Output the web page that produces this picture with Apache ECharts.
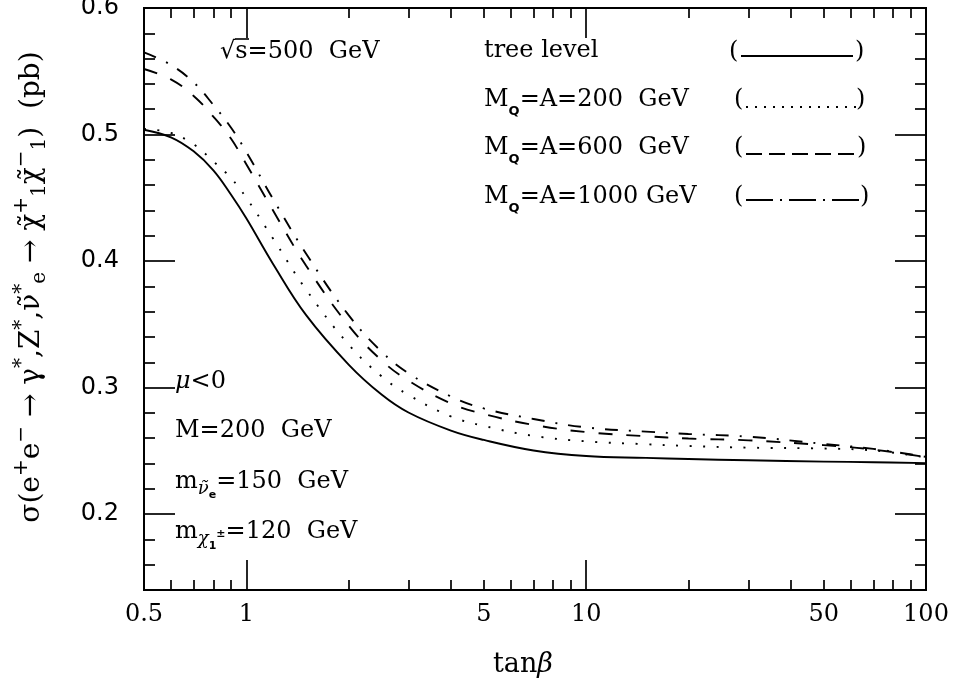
<!DOCTYPE html>
<html><head><meta charset="utf-8">
<script src="https://cdn.jsdelivr.net/npm/echarts@6/dist/echarts.min.js"></script>
<style>html,body{margin:0;padding:0;background:#fff}#c{width:953px;height:691px}</style>
</head><body><div id="c"></div>
<script>
// ---- data ----
const tanBeta   = [0.5, 0.6, 0.7, 0.8, 0.9, 1, 1.2, 1.5, 2, 2.5, 3, 4, 5, 7, 10, 15, 20, 30, 50, 70, 100];
const treeLevel = [0.5038, 0.4978, 0.4867, 0.4717, 0.4528, 0.4338, 0.3975, 0.3572, 0.3182, 0.2945, 0.2803, 0.2660, 0.2586, 0.2503, 0.2459, 0.2444, 0.2435, 0.2425, 0.2415, 0.2410, 0.2403];
const mqA200    = [0.5045, 0.5013, 0.4922, 0.4788, 0.4658, 0.4500, 0.4176, 0.3774, 0.3340, 0.3089, 0.2942, 0.2772, 0.2697, 0.2618, 0.2575, 0.2552, 0.2538, 0.2525, 0.2518, 0.2503, 0.2448];
const mqA600    = [0.5518, 0.5436, 0.5305, 0.5141, 0.4970, 0.4765, 0.4397, 0.3963, 0.3490, 0.3215, 0.3055, 0.2874, 0.2791, 0.2705, 0.2648, 0.2615, 0.2597, 0.2583, 0.2545, 0.2510, 0.2450];
const mqA1000   = [0.5649, 0.5550, 0.5412, 0.5234, 0.5057, 0.4863, 0.4488, 0.4058, 0.3572, 0.3284, 0.3113, 0.2930, 0.2835, 0.2752, 0.2685, 0.2652, 0.2633, 0.2612, 0.2555, 0.2515, 0.2452];

const xLabelValues = [0.5, 1, 5, 10, 50, 100];
const xMajorTicks  = [1, 10, 100];
const xMinorTicks  = [0.6, 0.7, 0.8, 0.9, 2, 3, 4, 5, 6, 7, 8, 9, 20, 30, 40, 50, 60, 70, 80, 90];
const yLabelValues = [0.2, 0.3, 0.4, 0.5, 0.6];
const yMinorTicks  = [0.16, 0.18, 0.22, 0.24, 0.26, 0.28, 0.32, 0.34, 0.36, 0.38, 0.42, 0.44, 0.46, 0.48, 0.52, 0.54, 0.56, 0.58];

// ---- chart ----
const SERIF = '"DejaVu Serif", serif';
const SANS = '"DejaVu Sans", sans-serif';
const chart = echarts.init(document.getElementById('c'), null, {renderer: 'canvas'});

function fmtNum(v) { return String(Math.round(v * 100) / 100); }
function mkX(pos, ticks, len, labels) {
  return {
    type: 'log', logBase: 10, min: 0.5, max: 100, position: pos,
    axisLine: {show: true, onZero: false, lineStyle: {color: '#000', width: 2}},
    axisTick: {show: true, inside: true, length: len, customValues: ticks, lineStyle: {color: '#000', width: 1.7}},
    axisLabel: labels ? {show: true, customValues: labels, margin: 13, color: '#000', fontFamily: SERIF, fontSize: 24, formatter: fmtNum}
                      : {show: false},
    splitLine: {show: false}, minorTick: {show: false}
  };
}
function mkY(pos, ticks, len, labels) {
  return {
    type: 'value', min: 0.14, max: 0.6, position: pos,
    axisLine: {show: true, onZero: false, lineStyle: {color: '#000', width: 2}},
    axisTick: {show: true, inside: true, length: len, customValues: ticks, lineStyle: {color: '#000', width: 1.7}},
    axisLabel: labels ? {show: true, customValues: labels, margin: 25, color: '#000', fontFamily: SANS, fontSize: 24, formatter: fmtNum}
                      : {show: false},
    splitLine: {show: false}, minorTick: {show: false}
  };
}
function mkSeries(name, arr, type) {
  return {
    name, type: 'line', xAxisIndex: 0, yAxisIndex: 0,
    data: tanBeta.map((x, i) => [x, arr[i]]),
    smooth: 0.4, showSymbol: false, symbol: 'none', silent: true,
    lineStyle: {color: '#000', width: 1.9, type: type, cap: 'butt'},
    z: 3
  };
}

const richBase = {
  n: {fontFamily: SERIF, fontSize: 24, fill: '#000'},
  big: {fontFamily: SERIF, fontSize: 27, fill: '#000'},
  yb: {fontFamily: SERIF, fontSize: 28, fill: '#000'},
  q: {fontFamily: SANS, fontSize: 13, fontWeight: 'bold', padding: [24, 0, 0, 0]},
  it: {fontFamily: SERIF, fontSize: 24, fontStyle: 'italic'},
  itb: {fontFamily: SERIF, fontSize: 27, fontStyle: 'italic'},
  nu: {fontFamily: SERIF, fontSize: 18, fontStyle: 'italic', padding: [14, 0, 0, 0]},
  e: {fontFamily: SANS, fontSize: 11, fontWeight: 'bold', padding: [26, 0, 0, 0]},
  one: {fontFamily: SANS, fontSize: 11, fontWeight: 'bold', padding: [28, 0, 0, 0]},
  pm: {fontFamily: SANS, fontSize: 11, fontWeight: 'bold', padding: [4, 0, 0, 0]},
  sup: {fontFamily: SERIF, fontSize: 20, padding: [0, 0, 20, 0]},
  sub: {fontFamily: SERIF, fontSize: 20, padding: [16, 0, 0, 0]}
};
const txt = (x, y, text, extra) => ({
  type: 'text', x, y, silent: true,
  style: Object.assign({text, rich: richBase, fill: '#000', fontFamily: SERIF, fontSize: 24, align: 'left', verticalAlign: 'middle'}, extra || {})
});
const seg = (x1, x2, y, dash, w) => ({
  type: 'line', silent: true,
  shape: {x1, y1: y, x2, y2: y},
  style: {stroke: '#000', lineWidth: w || 1.8, lineDash: dash || null}
});

const DOT = [2, 11.5], DASH = [14, 14], DASHDOT = [13, 11, 2, 11];

const yTitle = '{yb|σ(e}{sup|+}{yb|e}{sup|−}{yb| → γ}{sup|*}{yb|,Z}{sup|*}{yb|,ν̃}{sup|*}{sub|e}' +
               '{yb| → χ̃}{sup|+}{sub|1}{yb|χ̃}{sup|−}{sub|1}{yb|)  (pb)}';

chart.setOption({
  backgroundColor: '#fff',
  animation: false,
  grid: {left: 144, right: 27, top: 8, bottom: 101, containLabel: false, outerBoundsMode: 'none'},
  xAxis: [
    mkX('bottom', xMajorTicks, 30, xLabelValues),
    mkX('top', xMajorTicks, 30, null),
    mkX('bottom', xMinorTicks, 10, null),
    mkX('top', xMinorTicks, 10, null)
  ],
  yAxis: [
    mkY('left', yLabelValues, 31, yLabelValues),
    mkY('right', yLabelValues, 31, null),
    mkY('left', yMinorTicks, 11, null),
    mkY('right', yMinorTicks, 11, null)
  ],
  series: [
    mkSeries('tree level', treeLevel, 'solid'),
    mkSeries('MQ=A=200 GeV', mqA200, DOT),
    mkSeries('MQ=A=600 GeV', mqA600, DASH),
    mkSeries('MQ=A=1000 GeV', mqA1000, DASHDOT)
  ],
  graphic: [
    txt(220, 52, '{n|√s=500  GeV}'),
    seg(235, 249, 39, null, 1.6),
    txt(484, 51, 'tree level'),
    txt(484, 100, '{n|M}{q|Q}{n|=A=200  GeV}'),
    txt(484, 148, '{n|M}{q|Q}{n|=A=600  GeV}'),
    txt(484, 197, '{n|M}{q|Q}{n|=A=1000 GeV}'),
    txt(729, 52, '('), txt(855, 52, ')'),
    txt(734, 100, '('), txt(856, 100, ')'),
    txt(734, 148, '('), txt(857, 148, ')'),
    txt(734, 197, '('), txt(860, 197, ')'),
    seg(741, 853, 56, null),
    seg(746, 856, 107, [2, 7]),
    seg(746, 856, 154, [16, 7]),
    seg(746, 861, 200, [27, 7, 2, 7]),
    txt(175, 382, '{it|μ}{n|<0}'),
    txt(175, 431, 'M=200  GeV'),
    txt(175, 482, '{n|m}{nu|ν̃}{e|e}{n|=150  GeV}'),
    txt(175, 532, '{n|m}{nu|χ}{one|1}{pm|±}{n|=120  GeV}'),
    {
      type: 'text', x: 32, y: 287, rotation: Math.PI / 2, silent: true,
      style: {text: yTitle, rich: richBase, fill: '#000', fontFamily: SERIF, fontSize: 28, align: 'center', verticalAlign: 'middle'}
    },
    txt(493, 665, '{big|tan}{itb|β}')
  ]
});
</script>
</body></html>
